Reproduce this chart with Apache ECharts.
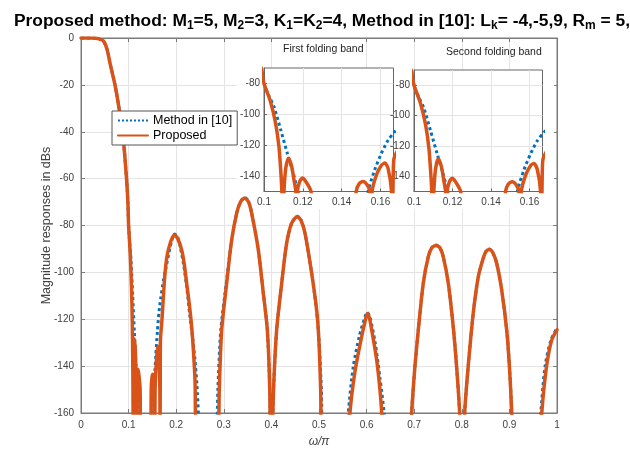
<!DOCTYPE html>
<html>
<head>
<meta charset="utf-8">
<script src="https://cdn.jsdelivr.net/npm/echarts@6/dist/echarts.min.js"></script>
<style>html,body{margin:0;padding:0;background:#fff;}#c{width:630px;height:458px;}</style>
</head>
<body>
<div id="c"></div>
<script>
// ---- data (x in units of pi, y in dB) ----
var seriesNames = ['Method in [10]', 'Proposed'];
var xTicksMain = [0, 0.1, 0.2, 0.3, 0.4, 0.5, 0.6, 0.7, 0.8, 0.9, 1];
var yTicksMain = [0, -20, -40, -60, -80, -100, -120, -140, -160];
var insetXTicks = [0.1, 0.12, 0.14, 0.16];
var insetYTicks = [-80, -100, -120, -140];
var insetTitles = ['First folding band', 'Second folding band'];

var methodData = [
[0,0],[0.01,0],[0.02,0],[0.03,-0.1],[0.038,-0.4],[0.047,-1.2],[0.055,-5],[0.061,-10.8],[0.0714,-20],[0.0805,-30.7],[0.089,-43.5],[0.096,-61],[0.0985,-70],[0.1,-80],
[0.1025,-88],[0.1051,-95],[0.1086,-110],[0.112,-125.2],[0.1155,-140.2],[0.1172,-148.8],[0.119,-158],[0.121,-175],[0.135,-190],[0.1505,-172],
[0.1536,-150],[0.157,-136],[0.1605,-125.2],[0.164,-116.6],[0.1674,-111.2],[0.1735,-103],[0.18,-96.5],[0.1905,-86.5],[0.197,-83.6],[0.204,-85.5],[0.215,-96],[0.222,-106],[0.229,-119],[0.2345,-128],[0.2395,-137.4],[0.2435,-148],[0.2465,-160],[0.248,-175],
[0.266,-190],[0.2835,-175],[0.2875,-150],[0.2935,-125],[0.305,-105],[0.3165,-86.2],[0.327,-74.8],[0.335,-69.8],[0.344,-68],[0.352,-69.8],[0.3586,-74.8],[0.3725,-90.4],[0.383,-108.9],[0.3915,-124.6],[0.3965,-150],[0.399,-190],
[0.4045,-150],[0.411,-124.6],[0.4216,-104.7],[0.432,-87.6],[0.4426,-79],[0.4545,-76],[0.4625,-77.8],[0.4706,-83.3],[0.4846,-100.4],[0.495,-116.5],[0.5,-129],[0.505,-150],[0.509,-175],
[0.535,-190],[0.559,-175],[0.5616,-160],[0.572,-140.2],[0.585,-127],[0.5966,-119],[0.601,-117],[0.607,-119],[0.618,-130],[0.628,-145],[0.6366,-160],[0.639,-175],
[0.665,-190],[0.693,-175],[0.6947,-160],[0.7016,-140],[0.7086,-124.6],[0.719,-104.7],[0.7296,-93.3],[0.737,-89.5],[0.7458,-88.3],[0.754,-89.5],[0.761,-93.3],[0.7717,-104.7],[0.782,-123.2],[0.789,-140],[0.7955,-160],[0.8005,-190],
[0.806,-160],[0.8135,-140],[0.824,-117.5],[0.8347,-101.8],[0.845,-94],[0.851,-91],[0.8578,-90],[0.865,-91.5],[0.8733,-96.1],[0.8838,-107.5],[0.8943,-124.6],[0.9,-140],[0.905,-160],[0.907,-175],
[0.935,-190],[0.963,-175],[0.966,-160],[0.975,-140],[0.987,-129],[1.0,-123.7]
];

var proposedData = [
[0,0],[0.01,0],[0.02,0],[0.03,-0.1],[0.038,-0.4],[0.047,-1.2],[0.055,-5],[0.061,-10.8],[0.0714,-20],[0.0805,-30.7],[0.089,-43.5],[0.096,-61],[0.0985,-70],[0.1,-80],
[0.1034,-92],[0.106,-106],[0.1077,-121],[0.1086,-136],[0.1092,-150],[0.1097,-175],
[0.1103,-150],[0.1112,-135],[0.1126,-128.4],[0.1142,-133.5],[0.1155,-143],[0.1164,-150],[0.1168,-175],
[0.1172,-150],[0.1184,-143.5],[0.1198,-141.3],[0.1215,-143.5],[0.1242,-150],[0.1252,-175],[0.136,-190],[0.1465,-175],
[0.1475,-150],[0.149,-145],[0.151,-143.5],[0.153,-145.5],[0.1545,-150],[0.155,-175],
[0.1557,-150],[0.158,-139],[0.1605,-133],[0.1623,-131.6],[0.164,-135.5],[0.1657,-150],[0.1661,-175],
[0.1665,-145],[0.1669,-129],[0.170,-120.5],[0.1735,-109],[0.1765,-100.4],[0.18,-94],[0.1835,-90.4],[0.19,-86],[0.196,-84],[0.203,-85.5],[0.2115,-90.4],[0.217,-96.5],[0.222,-104.7],[0.2275,-113.5],[0.2325,-123.2],[0.236,-133],[0.2395,-146],[0.2425,-175],
[0.266,-190],[0.2875,-175],[0.2905,-150],[0.2955,-124.6],[0.306,-104.7],[0.3165,-86.2],[0.327,-74.8],[0.335,-70],[0.344,-68.3],[0.352,-70],[0.3586,-74.8],[0.3725,-90.4],[0.383,-108.9],[0.3915,-124.6],[0.3965,-150],[0.399,-190],
[0.4045,-150],[0.411,-124.6],[0.4216,-104.7],[0.432,-87.6],[0.4426,-79],[0.4545,-76.2],[0.4625,-78],[0.4706,-83.3],[0.4846,-100.4],[0.495,-116],[0.4995,-128],[0.5035,-150],[0.506,-175],
[0.535,-190],[0.5625,-175],[0.565,-160],[0.575,-143],[0.586,-131],[0.5966,-121],[0.6015,-117.5],[0.606,-119.5],[0.6107,-124.6],[0.6212,-137.4],[0.628,-150],[0.6317,-160],[0.634,-175],
[0.665,-190],[0.693,-175],[0.6947,-160],[0.7016,-140],[0.7086,-124.6],[0.719,-104.7],[0.7296,-93.3],[0.737,-89.5],[0.7458,-88.5],[0.754,-89.5],[0.761,-93.3],[0.7717,-104.7],[0.782,-123.2],[0.789,-140],[0.7955,-160],[0.8005,-190],
[0.806,-160],[0.8135,-140],[0.824,-117.5],[0.8347,-101.8],[0.845,-94],[0.851,-91],[0.8578,-90.2],[0.865,-91.5],[0.8733,-96.1],[0.8838,-107.5],[0.8943,-124.6],[0.9,-140],[0.905,-160],[0.907,-175],
[0.935,-190],[0.965,-175],[0.968,-160],[0.978,-140.2],[0.989,-128.8],[1.0,-124.5]
];

// ---- chart ----
var FONT = '"Liberation Sans", Arial, Helvetica, sans-serif';
var BLUE = '#0072BD', ORANGE = '#D95319';
var AXC = '#7a7a7a', GRIDC = '#e4e4e4', LABC = '#404040';

var chart = echarts.init(document.getElementById('c'), null, {renderer: 'canvas'});

function mainX(pos, show) {
  return {
    type: 'value', gridIndex: 0, position: pos, min: 0, max: 1, interval: 0.1,
    axisLine: {show: true, onZero: false, lineStyle: {color: AXC, width: 1}},
    axisTick: {show: true, inside: true, length: 4, lineStyle: {color: AXC}},
    axisLabel: {show: show, color: LABC, fontSize: 10, fontFamily: FONT, margin: 7,
      customValues: xTicksMain},
    splitLine: {show: show, lineStyle: {color: GRIDC, width: 1}},
    name: show ? 'ω/π' : '', nameLocation: 'middle', nameGap: 23, nameMoveOverlap: false,
    nameTextStyle: {fontStyle: 'italic', fontSize: 12, color: LABC, fontFamily: FONT}
  };
}
function mainY(pos, show) {
  return {
    type: 'value', gridIndex: 0, position: pos, min: -160, max: 0, interval: 20,
    axisLine: {show: true, onZero: false, lineStyle: {color: AXC, width: 1}},
    axisTick: {show: true, inside: true, length: 4, lineStyle: {color: AXC}},
    axisLabel: {show: show, color: LABC, fontSize: 10, fontFamily: FONT, margin: 7,
      customValues: yTicksMain},
    splitLine: {show: show, lineStyle: {color: GRIDC, width: 1}},
    name: show ? 'Magnitude responses in dBs' : '', nameLocation: 'middle', nameGap: 28, nameMoveOverlap: false,
    nameTextStyle: {fontSize: 12.5, color: LABC, fontFamily: FONT}
  };
}
function insetX(g) {
  return {
    type: 'value', gridIndex: g, min: 0.1, max: 0.1667, z: 5,
    axisLine: {show: true, onZero: false, lineStyle: {color: '#666', width: 1}},
    axisTick: {show: true, inside: true, length: 3, lineStyle: {color: '#666'}, customValues: insetXTicks},
    axisLabel: {show: true, color: LABC, fontSize: 10, fontFamily: FONT, margin: 6, customValues: insetXTicks},
    splitLine: {show: true, lineStyle: {color: GRIDC, width: 1}}
  };
}
function insetY(g) {
  return {
    type: 'value', gridIndex: g, min: -150, max: -70, z: 5,
    axisLine: {show: true, onZero: false, lineStyle: {color: '#666', width: 1}},
    axisTick: {show: true, inside: true, length: 3, lineStyle: {color: '#666'}, customValues: insetYTicks},
    axisLabel: {show: true, color: LABC, fontSize: 10, fontFamily: FONT, margin: 4, customValues: insetYTicks},
    splitLine: {show: true, lineStyle: {color: GRIDC, width: 1}}
  };
}
function lineSeries(name, data, xi, yi, z) {
  var isM = name === seriesNames[0];
  return {
    name: name, type: 'line', data: data, xAxisIndex: xi, yAxisIndex: yi,
    showSymbol: false, symbol: 'none', smooth: 0.25, clip: true, z: z,
    lineStyle: isM ? {color: BLUE, width: 3, type: 'dotted', cap: 'butt'}
                   : {color: ORANGE, width: 3.5, cap: 'round', join: 'round'},
    itemStyle: {color: isM ? BLUE : ORANGE},
    emphasis: {disabled: true}
  };
}

var sub = {fontSize: 12, fontWeight: 'bold', fontFamily: FONT, color: '#000', lineHeight: 1, verticalAlign: 'bottom'};
var main = {fontSize: 17.4, fontWeight: 'bold', fontFamily: FONT, color: '#000', lineHeight: 22};

var option = {
  animation: false,
  backgroundColor: '#fff',
  title: {
    left: 9, top: 5,
    text: '{a|Proposed method: M}{s|1}{a|=5, M}{s|2}{a|=3, K}{s|1}{a|=K}{s|2}{a|=4, Method in [10]: L}{s|k}{a|= -4,-5,9, R}{s|m}{a| = 5,3}',
    textStyle: {rich: {a: main, s: sub}}
  },
  legend: {
    data: seriesNames, orient: 'vertical', left: 112, top: 111,
    backgroundColor: '#fff', borderColor: '#555', borderWidth: 1,
    padding: [3, 5, 3, 5], itemGap: 2, itemWidth: 30, itemHeight: 14,
    itemStyle: {opacity: 0},
    textStyle: {fontSize: 12.5, color: '#000', fontFamily: FONT},
    selectedMode: false, z: 10
  },
  grid: [
    {left: 81, top: 38, width: 476, height: 375, show: true, borderColor: AXC, borderWidth: 1, z: 0},
    {left: 264, top: 68, width: 129.5, height: 123.5, show: true, backgroundColor: '#fff', borderColor: '#666', borderWidth: 1, z: 4},
    {left: 414, top: 70, width: 128.5, height: 121.5, show: true, backgroundColor: '#fff', borderColor: '#666', borderWidth: 1, z: 4}
  ],
  xAxis: [mainX('bottom', true), mainX('top', false), insetX(1), insetX(2)],
  yAxis: [mainY('left', true), mainY('right', false), insetY(1), insetY(2)],
  graphic: [
    {type: 'rect', z: 1, shape: {x: 237, y: 68, width: 160, height: 141}, style: {fill: '#fff'}},
    {type: 'rect', z: 1, shape: {x: 278, y: 39, width: 86, height: 29}, style: {fill: '#fff'}},
    {type: 'rect', z: 1, shape: {x: 398, y: 70, width: 156, height: 139}, style: {fill: '#fff'}},
    {type: 'text', z: 6, left: 283, top: 44, style: {text: insetTitles[0], fontSize: 10.5, fill: '#222', fontFamily: FONT}},
    {type: 'text', z: 6, left: 446, top: 47, style: {text: insetTitles[1], fontSize: 10.5, fill: '#222', fontFamily: FONT}}
  ],
  series: [
    lineSeries(seriesNames[0], methodData, 0, 0, 2),
    lineSeries(seriesNames[1], proposedData, 0, 0, 3),
    lineSeries(seriesNames[0], methodData, 2, 2, 6),
    lineSeries(seriesNames[1], proposedData, 2, 2, 7),
    lineSeries(seriesNames[0], methodData, 3, 3, 6),
    lineSeries(seriesNames[1], proposedData, 3, 3, 7)
  ]
};
chart.setOption(option);
</script>
</body>
</html>
